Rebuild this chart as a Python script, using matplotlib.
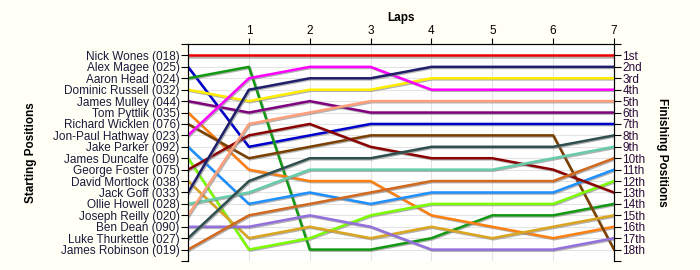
import matplotlib
matplotlib.use('Agg')
import matplotlib.pyplot as plt
import matplotlib.patheffects as pe

plt.rcParams['font.family'] = ['Liberation Sans', 'DejaVu Sans']

drivers = ['Nick Wones (018)', 'Alex Magee (025)', 'Aaron Head (024)', 'Dominic Russell (032)',
           'James Mulley (044)', 'Tom Pyttlik (035)', 'Richard Wicklen (076)', 'Jon-Paul Hathway (023)',
           'Jake Parker (092)', 'James Duncalfe (069)', 'George Foster (075)', 'David Mortlock (038)',
           'Jack Goff (033)', 'Ollie Howell (028)', 'Joseph Reilly (020)', 'Ben Dean (090)',
           'Luke Thurkettle (027)', 'James Robinson (019)']

# position at lap 0 (start) .. lap 7 (finish)
positions = [
    [1, 1, 1, 1, 1, 1, 1, 1],
    [2, 9, 8, 7, 7, 7, 7, 7],
    [3, 2, 18, 18, 17, 15, 15, 14],
    [4, 5, 4, 4, 3, 3, 3, 3],
    [5, 6, 5, 6, 6, 6, 6, 6],
    [6, 11, 12, 12, 15, 16, 17, 16],
    [7, 10, 9, 8, 8, 8, 8, 18],
    [8, 3, 2, 2, 4, 4, 4, 4],
    [9, 14, 13, 14, 13, 13, 13, 11],
    [10, 18, 17, 15, 14, 14, 14, 12],
    [11, 8, 7, 9, 10, 10, 11, 13],
    [12, 17, 16, 17, 16, 17, 16, 15],
    [13, 4, 3, 3, 2, 2, 2, 2],
    [14, 13, 11, 11, 11, 11, 10, 9],
    [15, 7, 6, 5, 5, 5, 5, 5],
    [16, 16, 15, 16, 18, 18, 18, 17],
    [17, 12, 10, 10, 9, 9, 9, 8],
    [18, 15, 14, 13, 12, 12, 12, 10],
]

colors = ['#ee0000', '#0000cc', '#119911', '#ffee00', '#800080', '#ff8010', '#7b3f00', '#ff00ff',
          '#1e90ff', '#7cfc00', '#8b0000', '#daa520', '#1f1f6b', '#66cdaa', '#ffa07a', '#9370db',
          '#2f4f4f', '#d2691e']

finish_labels = ['1st', '2nd', '3rd', '4th', '5th', '6th', '7th', '8th', '9th', '10th',
                 '11th', '12th', '13th', '14th', '15th', '16th', '17th', '18th']

laps = list(range(8))

bg = '#fffff5'
fig = plt.figure(figsize=(7, 2.7), dpi=100, facecolor=bg)
ax = fig.add_axes([0.2686, 0.0333, 0.6086, 0.8037])
ax.set_facecolor('white')

for i in range(len(drivers)):
    ax.plot(laps, positions[i], color=colors[i], lw=1.8, solid_joinstyle='round',
            path_effects=[pe.SimpleLineShadow(offset=(0.8, -0.8), shadow_color='#808080', alpha=0.6),
                          pe.Normal()], zorder=3)

ax.set_xlim(0, 7)
ax.set_ylim(19, 0)

for y in range(1, 19):
    ax.axhline(y, color='#e4e4e4', lw=0.8, zorder=1)
for x in range(1, 7):
    ax.axvline(x, color='#e4e4e4', lw=0.8, zorder=1)

ax.spines['bottom'].set_visible(False)
ax.xaxis.tick_top()
ax.set_xticks(range(1, 8))
ax.set_xticklabels([str(v) for v in range(1, 8)], fontsize=8.5)
ax.tick_params(axis='x', direction='out', length=4, pad=1)
ax.set_xlabel('Laps', fontsize=8.5, fontweight='bold', labelpad=3)
ax.xaxis.set_label_position('top')

ax.set_yticks(range(0, 20))
ax.set_yticklabels([''] + drivers + [''], fontsize=8.5, color='#1a1a3a')
ax.tick_params(axis='y', direction='out', length=5, pad=1)
ax.set_ylabel('Starting Positions', fontsize=8.5, fontweight='bold', labelpad=12)

ax2 = ax.twinx()
ax2.set_ylim(19, 0)
ax2.set_yticks(range(0, 20))
ax2.set_yticklabels([''] + finish_labels + [''], fontsize=8.5, color='#2a0a3a')
ax2.tick_params(axis='y', direction='out', length=5, pad=1)
ax2.spines['bottom'].set_visible(False)
ax2.set_ylabel('Finishing Positions', fontsize=8.5, fontweight='bold', rotation=-90, labelpad=16)

fig.savefig('out.png', dpi=100, facecolor=bg)
